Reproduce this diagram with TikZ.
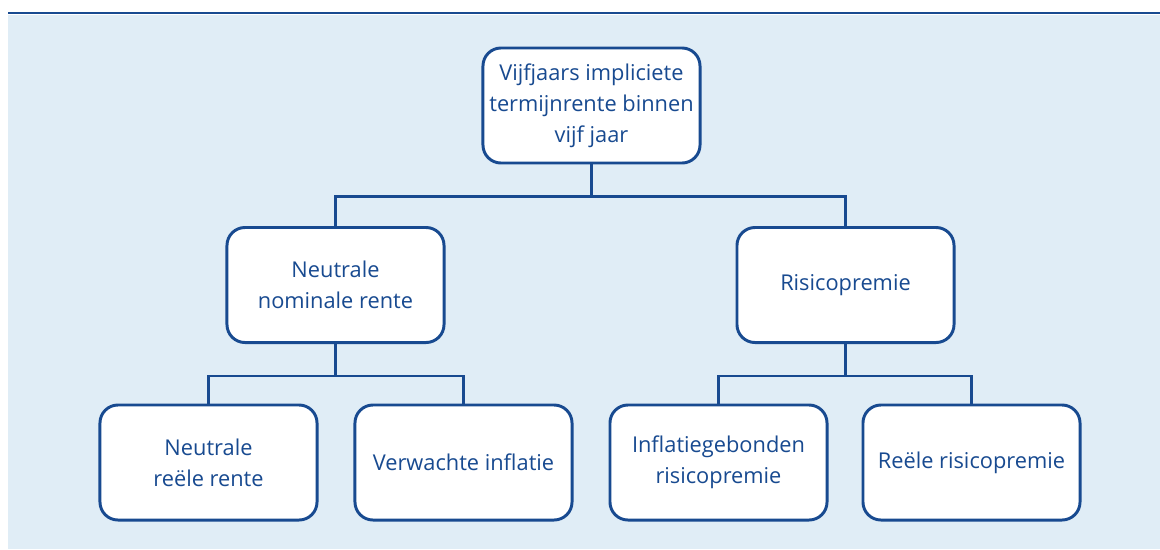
\documentclass[tikz,border=0pt]{standalone}
\usepackage{fontspec}
\setmainfont{Open Sans}
\usepackage{tikz}
\usetikzlibrary{positioning, calc}
\definecolor{dnbblue}{RGB}{24, 74, 144}
\definecolor{dnbback}{RGB}{224, 237, 246}

\begin{document}
\begin{tikzpicture}[
    x=0.025cm, y=-0.025cm,
    box/.style={rectangle, rounded corners=0.45cm, draw=dnbblue, fill=white, line width=2.1pt, minimum width=5.425cm, minimum height=2.875cm, align=center, text=dnbblue, font=\fontsize{15.5}{22}\selectfont, inner sep=2pt},
    conn/.style={draw=dnbblue, line width=2.1pt}
]

% Background and top rule
\useasboundingbox (0,0) rectangle (1160,549);
\fill[dnbback] (8,15) rectangle (1160,549);
\draw[dnbblue, line width=2.1pt] (8,13) -- (1160,13);

% Nodes
\node[box] (fwd) at (591.5,105.5) {Vijfjaars impliciete\\termijnrente binnen\\vijf jaar};
\node[box] (nom) at (335.5,285) {Neutrale\\nominale rente};
\node[box] (risk) at (845.5,285) {Risicopremie};
\node[box] (real) at (208.5,462.5) {Neutrale\\reële rente};
\node[box] (infl) at (463.5,462.5) {Verwachte inflatie};
\node[box] (ilrp) at (718.5,462.5) {Inflatiegebonden\\risicopremie};
\node[box] (rrp) at (971.5,462.5) {Reële risicopremie};

% Tree connectors
\draw[conn] (fwd.south) -- ++(0,32) -| (nom.north);
\draw[conn] (fwd.south) -- ++(0,32) -| (risk.north);
\draw[conn] (nom.south) -- ++(0,32) -| (real.north);
\draw[conn] (nom.south) -- ++(0,32) -| (infl.north);
\draw[conn] (risk.south) -- ++(0,32) -| (ilrp.north);
\draw[conn] (risk.south) -- ++(0,32) -| (rrp.north);

\end{tikzpicture}
\end{document}
